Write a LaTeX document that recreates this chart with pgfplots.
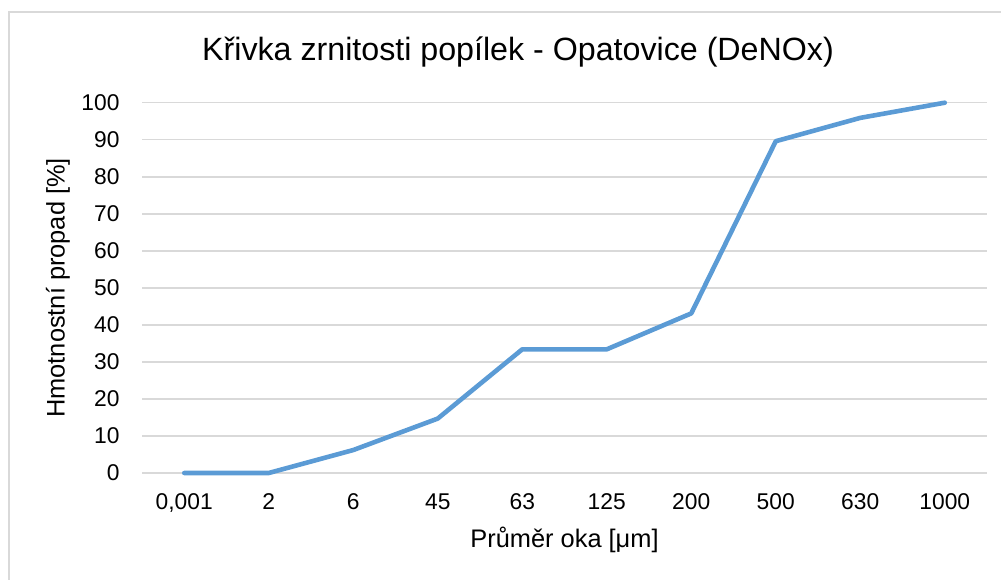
\documentclass[border=0pt]{standalone}
\usepackage{fontspec}
\setmainfont{Liberation Sans}
\usepackage{pgfplots}
\pgfplotsset{compat=1.18}
\definecolor{serie}{HTML}{5B9BD5}
\definecolor{gridc}{HTML}{D9D9D9}
\begin{document}
\begin{tikzpicture}
\path[use as bounding box] (0,0) rectangle (500.5pt,289.5pt);
\draw[gridc, line width=0.75pt] (4.5pt,-5pt) -- (4.5pt,283.5pt) -- (510pt,283.5pt);
\node[font=\fontsize{16.1}{19}\selectfont, anchor=center] at (259pt,263.5pt) {Křivka zrnitosti popílek - Opatovice (DeNOx)};
\begin{axis}[
  at={(71pt,53pt)}, anchor=south west,
  scale only axis, width=422.5pt, height=185.15pt,
  xmin=-0.5, xmax=9.5, ymin=0, ymax=100,
  xtick={0,...,9},
  xticklabels={{0,001},2,6,45,63,125,200,500,630,1000},
  ytick={0,10,...,100},
  ymajorgrids, grid style={gridc, line width=0.75pt},
  axis line style={draw=none},
  major tick length=0pt,
  /pgf/number format/assume math mode=true,
  tick label style={font=\fontsize{11.4}{13}\selectfont, text=black},
  xticklabel style={yshift=-6.7pt},
  yticklabel style={xshift=-7.7pt},
  xlabel={Průměr oka [μm]},
  ylabel={Hmotnostní propad [\%]},
  every axis x label/.style={at={(axis description cs:0.5,-0.181)}, anchor=center, font=\fontsize{12.7}{15}\selectfont},
  every axis y label/.style={at={(axis description cs:-0.0994,0.5)}, rotate=90, anchor=center, font=\fontsize{12.7}{15}\selectfont},
  clip=false,
]
\addplot[serie, line width=2.3pt, line join=round, line cap=round] coordinates {
  (0,0) (1,0) (2,6.2) (3,14.7) (4,33.4) (5,33.4) (6,43.1) (7,89.6) (8,95.9) (9,100)
};
\end{axis}
\end{tikzpicture}
\end{document}
